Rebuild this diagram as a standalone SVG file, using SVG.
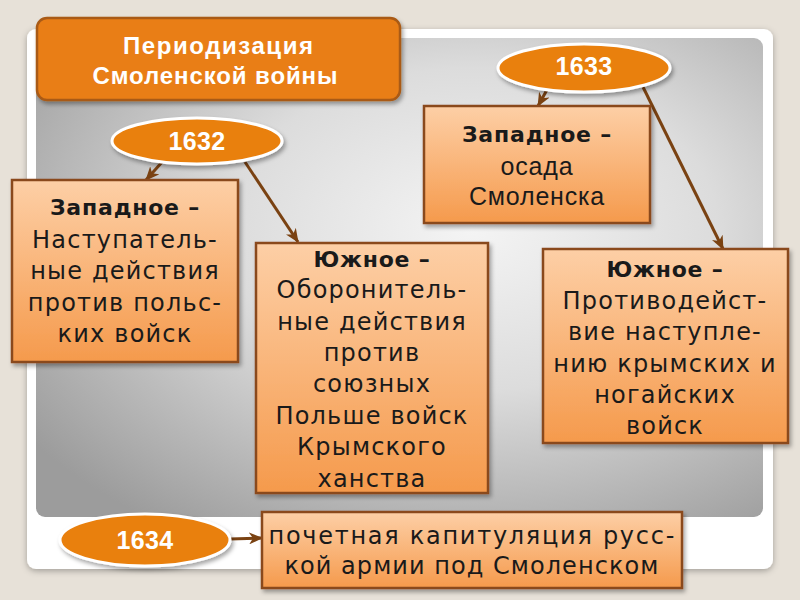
<svg xmlns="http://www.w3.org/2000/svg" width="800" height="600" viewBox="0 0 800 600">
<defs>
<radialGradient id="panel" cx="0.6" cy="0.4" r="0.75">
<stop offset="0" stop-color="#f4f4f4"/>
<stop offset="0.45" stop-color="#dcdcdc"/>
<stop offset="1" stop-color="#9c9c9c"/>
</radialGradient>
<linearGradient id="boxfill" x1="0" y1="0" x2="0" y2="1">
<stop offset="0" stop-color="#fdcfa6"/>
<stop offset="1" stop-color="#f59a4c"/>
</linearGradient>
<filter id="sh" x="-10%" y="-10%" width="125%" height="130%">
<feDropShadow dx="2" dy="3" stdDeviation="2" flood-color="#000" flood-opacity="0.35"/>
</filter>
<filter id="sh2" x="-5%" y="-5%" width="112%" height="115%">
<feDropShadow dx="0" dy="2" stdDeviation="3" flood-color="#000" flood-opacity="0.3"/>
</filter>
<marker id="arr" viewBox="0 0 14 12" refX="13" refY="6" markerWidth="14" markerHeight="12" markerUnits="userSpaceOnUse" orient="auto">
<path d="M0,0 L14,6 L0,12 L4,6 z" fill="#7a4212"/>
</marker>
<style>
.box{fill:url(#boxfill);stroke:#8a4a1c;stroke-width:2.5;filter:url(#sh)}
.ell{fill:#e9800f;stroke:#ffffff;stroke-width:3;filter:url(#sh)}
.num{font-family:"Liberation Sans",Arial,sans-serif;font-weight:bold;font-size:25px;fill:#fff;text-anchor:middle;letter-spacing:0.3px}
.t{font-family:"DejaVu Sans",Verdana,sans-serif;font-size:24px;fill:#1a1a1a;text-anchor:middle;letter-spacing:1.2px}
.b{font-family:"DejaVu Sans",Verdana,sans-serif;font-weight:bold;font-size:22px;fill:#1a1a1a;text-anchor:middle;letter-spacing:0.8px}
.a{font-family:"Liberation Sans",Arial,sans-serif;font-size:25px;fill:#1a1a1a;text-anchor:middle;letter-spacing:0.8px}
.title{font-family:"Liberation Sans",Arial,sans-serif;font-weight:bold;font-size:24px;fill:#fff;text-anchor:middle}
.con{stroke:#7a4212;stroke-width:3;fill:none;marker-end:url(#arr)}
</style>
</defs>
<rect x="0" y="0" width="800" height="600" fill="#e7e1d8"/>
<rect x="27" y="29" width="746" height="540" rx="9" fill="#ffffff" filter="url(#sh2)"/>
<rect x="36" y="38" width="727" height="479" rx="9" fill="url(#panel)"/>

<g id="connectors">
<line class="con" x1="163" y1="161" x2="146" y2="180"/>
<line class="con" x1="245" y1="162" x2="298" y2="242"/>
<line class="con" x1="548" y1="88" x2="538" y2="106"/>
<line class="con" x1="643" y1="87" x2="723" y2="249"/>
<line class="con" x1="230" y1="539" x2="262" y2="538"/>
</g>

<g id="title">
<rect x="37" y="18" width="363" height="82" rx="10" fill="#e97e12" stroke="#a95a14" stroke-width="2.5" filter="url(#sh)"/>
<text class="title" x="218" y="54" textLength="190" lengthAdjust="spacing">Периодизация</text>
<text class="title" x="215" y="84" textLength="245" lengthAdjust="spacing">Смоленской войны</text>
</g>

<g id="y1632">
<ellipse class="ell" cx="197" cy="141" rx="85" ry="23"/>
<text class="num" x="197" y="150">1632</text>
</g>

<g id="y1633">
<ellipse class="ell" cx="584" cy="68" rx="86" ry="24"/>
<text class="num" x="584" y="75">1633</text>
</g>

<g id="y1634">
<ellipse class="ell" cx="145" cy="540" rx="85" ry="26"/>
<text class="num" x="145" y="549">1634</text>
</g>

<g id="westA">
<rect class="box" x="12" y="180" width="226" height="182"/>
<text class="b" x="125" y="215">Западное –</text>
<text class="t" x="125" y="248">Наступатель-</text>
<text class="t" x="125" y="279">ные действия</text>
<text class="t" x="125" y="311">против польс-</text>
<text class="t" x="125" y="342">ких войск</text>
</g>

<g id="southB">
<rect class="box" x="256" y="243" width="232" height="250"/>
<text class="b" x="372" y="267">Южное –</text>
<text class="t" x="372" y="298">Оборонитель-</text>
<text class="t" x="372" y="330">ные действия</text>
<text class="t" x="372" y="361">против</text>
<text class="t" x="372" y="392">союзных</text>
<text class="t" x="372" y="424">Польше войск</text>
<text class="t" x="372" y="455">Крымского</text>
<text class="t" x="372" y="487">ханства</text>
</g>

<g id="westC">
<rect class="box" x="424" y="106" width="226" height="117"/>
<text class="b" x="537" y="142">Западное –</text>
<text class="a" x="537" y="175">осада</text>
<text class="a" x="537" y="205">Смоленска</text>
</g>

<g id="southD">
<rect class="box" x="543" y="249" width="245" height="194"/>
<text class="b" x="665" y="277">Южное –</text>
<text class="t" x="665" y="309">Противодейст-</text>
<text class="t" x="665" y="340">вие наступле-</text>
<text class="t" x="665" y="372">нию крымских и</text>
<text class="t" x="665" y="403">ногайских</text>
<text class="t" x="665" y="434">войск</text>
</g>

<g id="result">
<rect class="box" x="262" y="512" width="420" height="76"/>
<text class="t" x="472" y="544" textLength="407" lengthAdjust="spacing">почетная капитуляция русс-</text>
<text class="t" x="472" y="574" textLength="375" lengthAdjust="spacing">кой армии под Смоленском</text>
</g>
</svg>
